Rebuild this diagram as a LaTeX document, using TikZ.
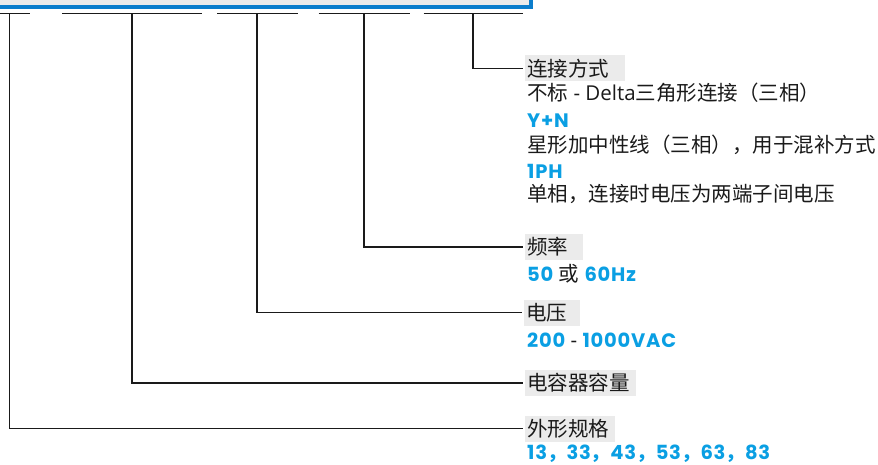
\documentclass[tikz,border=0pt]{standalone}
\usepackage{fontspec}
\setmainfont{Open Sans}
\newfontfamily\cjk{Noto Sans CJK SC}
\newfontfamily\hlfont{Poppins}[LetterSpace=4]
\definecolor{abbblue}{HTML}{0A9FE3}
\definecolor{frameblue}{HTML}{0B7DCC}
\definecolor{lblgray}{HTML}{EBEBEB}
\definecolor{ink}{HTML}{1A1A1A}
\tikzset{
  wire/.style={draw=ink, line width=1.4pt},
  lbl/.style={anchor=west, fill=lblgray, inner xsep=2pt, inner ysep=0pt,
    text height=20.8pt, text depth=5.2pt, align=left, text=ink,
    font=\cjk\fontsize{20.5}{24}\selectfont},
  body/.style={anchor=base west, inner sep=0pt, text=ink,
    font=\fontsize{20.5}{24}\selectfont}
}
\newcommand{\hb}[1]{{\color{abbblue}\hlfont\bfseries\fontsize{19.5}{24}\selectfont #1}}
\newcommand{\hc}{{\cjk\bfseries ，}}
\begin{document}
\begin{tikzpicture}[x=1pt,y=-1pt]
\useasboundingbox (0,0) rectangle (878,465);
\clip (0,0) rectangle (878,465);
% cut-off frame at the top
\fill[lblgray] (-10,-10) rectangle (531,7);
\draw[frameblue, line width=4.2pt] (-10,6.9) -- (531,6.9) -- (531,-10);

% dash segments under the code
\coordinate (d1a) at (0,13.8);    \coordinate (d1b) at (29.6,13.8);
\coordinate (d2a) at (62,13.8);   \coordinate (d2b) at (202,13.8);
\coordinate (d3a) at (217,13.8);  \coordinate (d3b) at (297.5,13.8);
\coordinate (d4a) at (318.5,13.8);\coordinate (d4b) at (410,13.8);
\coordinate (d5a) at (423.5,13.8);\coordinate (d5b) at (522.7,13.8);
\foreach \i in {1,...,5} \draw[wire] (d\i a) -- (d\i b);

% tops of the leaders
\coordinate (t1) at (9.3,13.8);
\coordinate (t2) at (132,13.8);
\coordinate (t3) at (257,13.8);
\coordinate (t4) at (364,13.8);
\coordinate (t5) at (473,13.8);

% labels
\node[lbl, text width=96pt]  (L5) at (525,68.5) {连接方式};
\node[lbl, text width=54pt]  (L4) at (525,247)  {频率};
\node[lbl, text width=52pt]  (L3) at (524,312.7){电压};
\node[lbl, text width=107pt] (L2) at (525,383)  {电容器容量};
\node[lbl, text width=86pt]  (L1) at (525,428.5){外形规格};

% leaders
\foreach \i in {1,...,5} \draw[wire, shorten >=2pt] (t\i) |- (L\i.west);

% body text
\node[body] (b1) at (527,100.5) {{\cjk 不标} - Delta{\cjk 三角形连接（三相）}};
\node[body] (b2) at (527,127.3) {\hb{Y+N}};
\node[body] (b3) at (527,152.8) {\cjk 星形加中性线（三相），用于混补方式};
\node[body] (b4) at (527,178.3) {\hb{1PH}};
\node[body] (b5) at (527,201.3) {\cjk 单相，连接时电压为两端子间电压};
\node[body] (b6) at (527,281.6) {\hb{50} {\cjk 或} \hb{60Hz}};
\node[body] (b7) at (527,347.3) {\hb{200} - \hb{1000VAC}};
\node[body] (b8) at (527,459.3) {\hb{13\hc 33\hc 43\hc 53\hc 63\hc 83}};
\end{tikzpicture}
\end{document}
